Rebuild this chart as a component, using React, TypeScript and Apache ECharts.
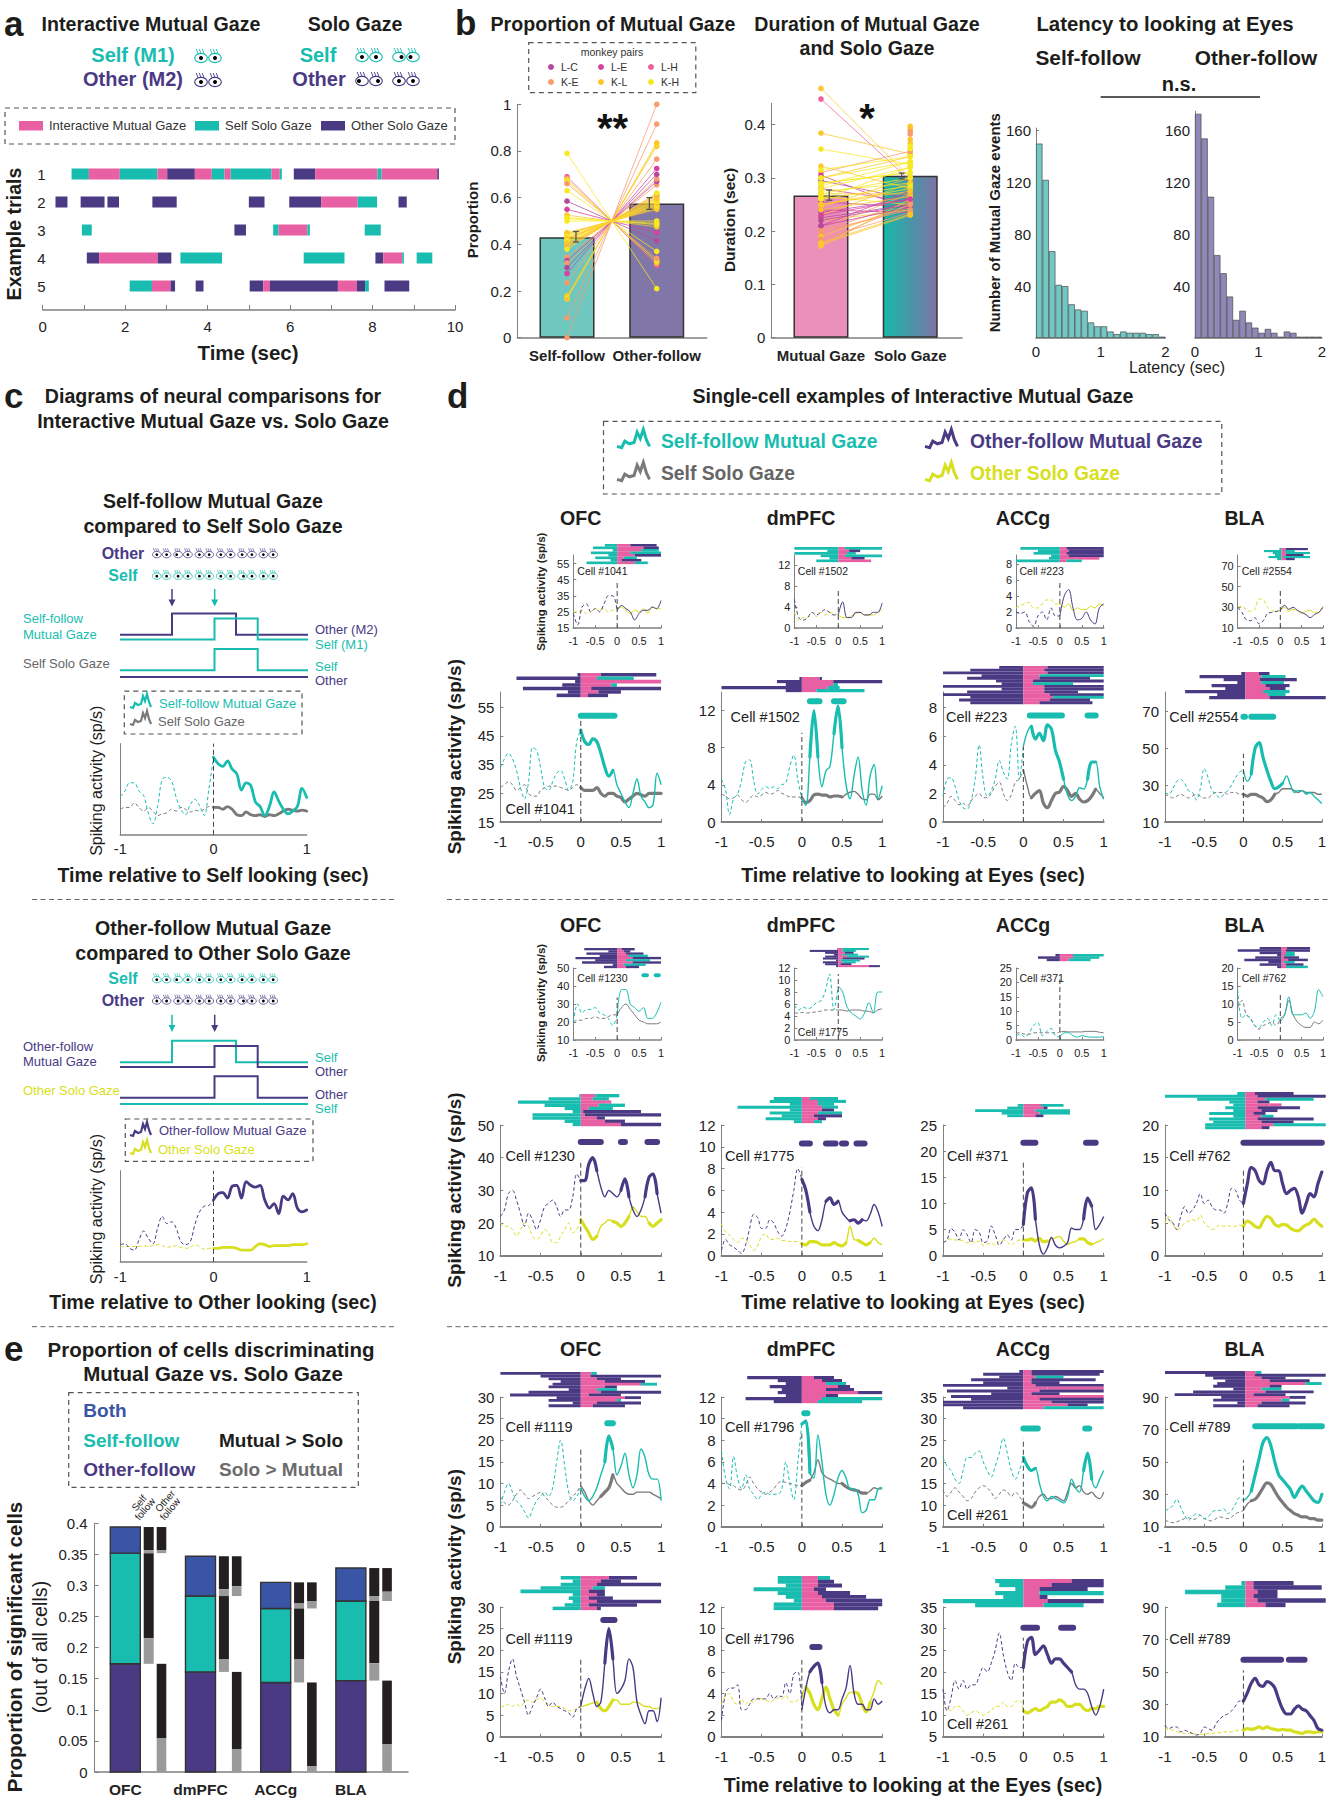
import React, { useEffect, useRef } from "react";
import * as echarts from "echarts";

const FONT = '"Liberation Sans", Arial, sans-serif';
const TEAL = "#19bdb0";
const PURPLE = "#4a3a84";
const GRAY = "#7a7a7a";
const YELLOW = "#d8df20";
const PINK = "#e85fa3";
const BLUE = "#3a55a5";
const INK = "#1d1d1b";
const AXIS = "#808080";
const RASTER_COLORS = [TEAL, PURPLE, PINK];

// ---------- panel a ----------
const ganttColors = [PINK, TEAL, PURPLE];
const ganttRow1 = [[0.70,1.12,1],[1.12,1.87,0],[1.87,2.78,1],[2.78,3.02,0],[3.02,3.69,2],[3.69,4.10,0],[4.10,4.41,1],[4.41,4.56,0],[4.56,5.55,1],[5.55,5.75,0],[5.75,5.80,1],[6.09,6.61,2],[6.61,8.12,0],[8.12,8.22,1],[8.22,9.57,0],[9.57,9.61,2]];
const ganttRow2 = [[0.31,0.60,2],[0.92,1.50,2],[1.57,1.85,2],[2.66,3.25,2],[5.0,5.38,2],[5.98,6.76,2],[6.76,7.64,0],[7.64,8.11,1],[8.63,8.83,2]];
const ganttRow3 = [[0.95,1.19,1],[4.65,4.93,2],[5.59,5.72,1],[5.72,6.42,0],[6.42,6.48,1],[7.81,8.20,1]];
const ganttRow4 = [[1.07,1.37,2],[1.37,2.79,0],[2.79,3.12,2],[3.34,4.35,1],[6.33,7.32,1],[8.07,8.26,2],[8.26,8.72,0],[8.72,8.76,1],[9.07,9.45,1]];
const ganttRow5 = [[2.11,2.65,1],[2.65,3.10,0],[3.10,3.21,2],[3.71,3.90,2],[5.02,5.35,2],[5.35,5.51,0],[5.51,7.16,2],[7.16,7.62,0],[7.62,7.82,2],[7.82,7.91,1],[8.29,8.89,2]];
const ganttRows = [ganttRow1, ganttRow2, ganttRow3, ganttRow4, ganttRow5];

// ---------- panel b ----------
const pairColors = ["#b5489e", "#d6409f", "#ef5f9e", "#f99a6c", "#fcc62c", "#f7e920"];
const pairNames = ["L-C", "L-E", "L-H", "K-E", "K-L", "K-H"];
const propCategories = ["Self-follow", "Other-follow"];
const propMeans = [0.43, 0.575];
const propErr = [[0.1, 0.41, 0.455], [0.918, 0.55, 0.6]];
const propLeft = [0.69,0.68,0.67,0.66,0.63,0.585,0.55,0.525,0.515,0.51,0.50,0.45,0.44,0.43,0.425,0.42,0.41,0.40,0.39,0.345,0.33,0.32,0.30,0.275,0.235,0.18,0.17,0.165,0.085,0.0,0.445,0.435,0.425,0.415,0.405,0.395,0.385,0.38,0.79];
const propRight = [0.31,0.32,0.33,0.34,0.37,0.415,0.45,0.475,0.485,0.49,0.50,0.55,0.56,0.57,0.575,0.58,0.59,0.60,0.61,0.655,0.67,0.68,0.70,0.725,0.765,0.82,0.83,0.835,0.915,1.0,0.555,0.565,0.575,0.585,0.595,0.605,0.615,0.62,0.21];
const propPair = [2,4,5,3,5,0,1,4,5,5,5,4,4,5,3,4,5,4,4,3,0,3,0,1,3,4,5,4,3,3,4,5,4,5,4,4,3,5,5];
const durCategories = ["Mutual Gaze", "Solo Gaze"];
const durMeans = [0.267, 0.304];
const durErr = [[0.093, 0.258, 0.277], [0.904, 0.298, 0.309]];
const durLeft = [0.468,0.448,0.384,0.354,0.322,0.31,0.305,0.30,0.295,0.29,0.285,0.28,0.275,0.27,0.265,0.26,0.255,0.25,0.245,0.24,0.235,0.23,0.225,0.22,0.21,0.205,0.2,0.195,0.19,0.175,0.172,0.315,0.3,0.29,0.28,0.27,0.26,0.25,0.24,0.23,0.22,0.21,0.2,0.185,0.18,0.178];
const durRight = [0.30,0.295,0.345,0.325,0.28,0.35,0.24,0.34,0.26,0.31,0.33,0.255,0.29,0.27,0.25,0.32,0.245,0.28,0.3,0.235,0.26,0.29,0.25,0.24,0.275,0.27,0.255,0.245,0.25,0.23,0.26,0.34,0.33,0.31,0.32,0.3,0.285,0.275,0.265,0.26,0.25,0.245,0.24,0.235,0.25,0.232];
const durPair = [4,2,4,5,4,3,1,4,0,5,5,1,5,4,5,5,0,5,4,1,0,4,0,4,1,3,3,3,4,4,4,5,5,5,5,5,5,4,4,1,0,0,3,3,3,4];
const durExtraRight = [0.397,0.392,0.387,0.382,0.372,0.365,0.36,0.355];
const durExtraPair = [4,4,3,3,4,4,5,5];
const histSelf = [150,122,67,41,40,26,22,21,12,9,9,5,3,5,4,4,4,3,3,1];
const histOther = [173,154,109,64,50,32,14,21,12,8,4,7,4,1,5,4,1,1,1,1];

// ---------- panel c ----------
const cSelfMutual = [42,48,57,57,48,43,24,12,31,61,63,59,41,28,22,33,39,32,21,50,85,78,75,81,72,67,49,57,54,36,31,21,31,47,37,28,23,26,31,51,41];
const cSelfSolo = [28,30,30,35,30,26,30,26,21,23,24,28,26,30,28,25,27,26,28,31,30,30,28,31,28,22,21,25,22,21,22,20,22,21,23,26,28,27,26,27,26];
const cOtherMutual = [19,20,15,13,24,34,26,20,37,50,42,44,37,22,19,22,41,55,61,62,68,75,76,70,83,84,70,88,84,82,84,68,59,64,53,72,68,75,59,55,57];
const cOtherSolo = [17,17,17,17,17,18,17,18,19,18,16,17,17.5,16,15,16,19,17,14,15,15,15,16,16,16,15,13,13,13,17,20,19,17,18,18,18,18,19,19,19,20];

// ---------- panel d, row 1 small ----------
const s1a = [24,17,28,30,25,27,25,30,35,35,26,29,27,25,20,24,26,26,28,27,32];
const s1b = [25,25,26,24,25,27,26,27,25,26,27,28,26,24,26,25,27,24,28,27,27];
const s2a = [5.5,2,1.5,2,3,2.5,3,3.5,3,2.5,2.5,5,2,2,3,3,2.5,2.5,3,3,4.8];
const s2b = [3,1.5,2,2,3,2.2,3,2.5,3,2.8,2.5,2,2,2.3,2.8,3,2.5,2.5,2.5,3,3.5];
const s3a = [2,1.8,2,0.8,0.2,1.5,2,1,2.5,1.5,1.5,4,4.8,2.5,1,1.2,2,1,0.5,2.5,3];
const s3b = [2.5,2.8,3,3.2,2.5,2.5,3,3.5,3.5,3,3,2.6,3,2.2,2.5,2.3,2.3,2.7,2.5,3,2.8];
const s4a = [30,25,18,17,20,14,17,24,25,26,27,32,28,30,27,25,23,20,23,25,30];
const s4b = [30,31,28,26,28,38,37,30,27,26,27,30,26,28,27,24,26,27,25,25,31];
// row 1 large
const l1a = [34,37,39,37,33,27,23,29,41,40,34,27,26,29,32,33,30,26,29,43,47,43,42,44,43,39,34,31,33,28,25,22,20,25,30,24,22,20,21,32,28];
const l1b = [27,28,29,28,26,27,28,25,24,24,26,27,27.5,27.5,27.5,27,26.5,26,27,28,27,26,26,26,27,25,24,25,25,24,23.5,22,23,24,25,24.5,24,25,25,25,25];
const l2a = [4.6,3.5,0.8,2.5,3,4.5,6.5,6.7,4.5,3,3.5,3.8,3.6,3.8,3.6,4,4.2,6,7.2,4.5,2.5,1.8,7,12,7,3.8,5.5,6,9.5,12.5,8,4,2.5,5,7,3.5,1.8,5,6.2,2.5,3.9];
const l2b = [3,2.8,2.5,2.6,2.9,2.4,2.1,2.5,2.9,2.7,2.9,3.2,3,3.1,3.4,3.1,2.9,2.7,2.7,2.7,2.6,2.1,2.3,2.9,3,2.9,2.9,2.7,2.8,2.8,2.7,3,3.2,3.3,3,2.5,2.4,3,3,2.4,2.8];
const l3a = [1.8,3,3.1,2.5,1.5,1,0.9,1.5,3,5.4,3,1.8,2.2,3,4.3,3.5,3,5.5,6.7,3,5.3,6.3,6.7,5.8,6.2,5.7,6.8,6.5,5,4.2,3,1.9,1.5,1.8,2.4,2.3,3,4.2,4.2,2.5,1.6];
const l3b = [1,1.3,1.8,1.5,1.2,1.3,1.1,1.5,1.8,2,1.7,1.7,2,2.5,2.8,2,1.5,1.9,2.8,3,3.7,2.5,1.7,2,2.2,1.3,1,1.5,2,2.1,2.5,2.2,1.8,2,1.6,1.4,1.5,1.8,2.3,2,1.7];
const l4a = [26,25,28,32,33,31,27,26,22,28,39,34,27,25,23,25,27,30,34,37,38,32,36,50,53,45,38,32,28,29,31,35,30,26,27,27,25,26,24,22,20];
const l4b = [25,24,23,24,25,24,23,24,25,24,23,23,25,26,26,26,25,26,26,25,25,24,25,25,24,23,21,22,25,26,28,28,28,27,26,27,26,26,26,25,25];
// row 2 small
const s5a = [20,30,25,27,27,28,25,24,22,18,24,38,38,30,28,26,28,22,22,25,31];
const s5b = [20,21,21,22,22,23,22,22,23,24,24,28,30,27,24,21,20,19,19,19,20];
const s6a = [5.8,5,5.5,5.2,5.5,6.2,6.5,8,11,5,9,8,5.5,4.5,4,3.5,4.5,6.2,4.5,8,8];
const s6b = [4.5,4.5,4.6,4.5,4.6,4.7,4.8,5,5,5,5,5,4.8,5,5,5,4.8,4.8,4.5,5,5.2];
const s7a = [1.5,2,1,2.5,5,6,1.5,3,4,1.5,1,2.5,2.5,1.5,1,1.5,1.2,1,1,1,1.2];
const s7b = [2.5,2.5,2,2,2.5,2.5,2.5,2.5,2.5,2.5,2.7,3,2.8,2.8,2.8,2.8,3,3,3,2.7,2.5];
const s8a = [14,6,7,6,4,3.5,5,6,4,7,5,7,12,7,7,7,7.5,6,8,14,12];
const s8b = [9,11,7,6,4,3,4,4.5,5,4,6,7,11,7,5,4,3.5,3.5,5,4.5,5.5];
// row 2 large
const l5a = [22,24,29,30,27,23,19,23,21,18,21,25,26,27,25,22,24,24,28,35,33,33,38,40,36,31,28,30,29,28,30,33.5,28,24,22,24,28,34,35,29,23];
const l5b = [20,19,19,18,16,18,20,19,16,15,16,18,17,14,14,16,18,20,17,18,21,19,17,15,16,19,20,21,20.5,20,19,20,22,25,23.5,22,22,20,19,20,21];
const l6a = [0.5,1.5,1,0.8,0.5,0.2,1,2.5,3.8,3.5,2.5,2.5,3.3,3,2.2,1.8,2.5,4,6,8,7,6,4,2.7,2.3,3.3,5,5.3,4.7,5,4,3.5,3.2,3.3,3,3.3,3.2,3.8,4.7,4,2.7];
const l6b = [2.9,2.2,1.9,1.5,1.2,1.6,1.5,1,0.5,0.9,1.8,2,1.5,1.5,1.6,1.4,1.4,1.3,1.3,1.3,1.1,1,1.3,1.3,1.2,1,1,1,1.2,1,0.9,1.2,2.7,1.5,1.4,1.2,1,1.2,1.6,1.2,1];
const l7a = [2.5,3,5.2,4.5,3,5,4,2.5,5,4.5,2.5,2.8,5.7,4,2,3,4,3,5,5,6,12,13,7,2,0.3,1.5,3.5,2,1.5,1.8,2.5,5.3,5,5,7,11,9.5,5,6,7.5];
const l7b = [2.5,3,3.2,3,3,2.8,2.5,2.8,2.5,2.8,2,2.2,2.4,2,2.8,3,2.6,2,2.6,3,3,3,3.2,2.8,3.3,2.7,2.8,3.2,3.4,3.7,2.8,2.2,2.5,2.7,3.2,3.2,2.5,2.2,2.5,2.8,3.3];
const l8a = [6.5,5.5,5,4,6,7.5,6.5,7,8,9.5,8,8.5,7.5,7,7,6.5,8,10.3,10,8.5,8,11,13.5,13,11.5,11,13,14.3,13,13,11,9.5,10,10.3,9,6.5,8,9.5,9,11,12.8];
const l8b = [5,6,4.8,4,4.3,5,5.3,5.5,5.3,6.2,5,4.5,4,4.3,4.7,4.5,4.6,4.4,4.5,4.7,4.5,5.3,5,4.5,4.3,5.3,6,5.7,4.8,4.5,4.8,4.7,4.2,3.9,3.8,4.3,4.7,5,5.6,5,4.5];
// row 3 upper
const u1a = [5,8,10,8,6,5,3.5,2,4,6,7,8,7,9,15,20,14,8,6,7,9,7,6,7,9,12,15,21,18,12,14,17,12,9,12,18,16,12,11,11,6];
const u1b = [7,5.5,5,6,7.5,8.5,7.5,6.5,7,7.5,8,7,6,5,4.5,4.5,5,6,7,8,9.5,8,6,5,6,7,8,9,12,10,9,8,7.5,7.5,8,8,8,8,7.5,7,6.5];
const u2a = [7,4.5,3.5,6.5,4.5,3.5,4.8,3.5,3,2.5,3,3.2,3,3,3,3.5,6,4,2.5,6,9.5,9.8,5,4.5,8.5,6,3,2,3,4.5,5.2,4.5,3.5,3.5,3,1.3,1.5,2.5,2.5,3.5,3.6];
const u2b = [4,4,3.9,3.8,3.5,3.4,3.8,4.6,4,3.5,3.2,3,3.2,3.5,4,4.2,4.1,4,3.9,3.8,3.8,4.1,4.3,5,6.2,5,4.6,4.4,4.2,4,4,3.7,3.5,3.4,3.3,3.1,3.1,3.3,3.6,3.5,3.5];
const u3a = [21,19,18,16,15,18,21,21,22,22.5,20,18,16.5,19,22,25.5,22,18,16,18,21,19,18,18.5,15,12,11,12,11.5,11,10.5,12,16,14,13,18,22,16,14,16,18];
const u3b = [13.5,12,13,14,13,12,11,11.5,13,14,14.5,14,13,11.5,12.5,13.5,13,12,13,12,10.5,10,9.5,10.5,12,12.5,11.5,11.5,12,11.5,11,13,15,14,14.5,13,12.5,13,12,11.5,13];
const u4a = [20,21,23,27,22,17,14,16,18,17,15,16,19,20,20,21,18,20,24,28,26,28,32,42,52,62,65,60,50,42,39,36,33,28,32,35,32,29,26,25,30];
const u4b = [14,13,12.5,13,14,15,15.5,14.5,15,17,15,14,13.5,15,16,15.5,15,16,18,19,20,24,26,27,30,34,37,36,32,28,25,22,20,18,17,16,16,15,15,14,14];
// row 3 lower
const v1a = [14,10,15,18,14,11,8,5,7,9,11,9,7,8,7,6.5,6,5.5,4.5,6.5,7,11,13.5,10,7,8,17,25,18,10,11,13,18,16,8,5,3,6,6,3.5,9];
const v1b = [7,7,7.5,7,7.5,7,8,8.5,8,8.5,9,8,7.5,7,7,7,6.5,6,6,6.5,7,7.2,7.5,7.8,8,6.5,6,7,8.5,8.5,7.5,7.5,7.5,8,8,7.5,7,7,6.5,6.5,7];
const v2a = [1.5,4,4.5,4.5,4.8,2.5,2.5,3,3.5,3.5,3.5,3.5,4,3.5,3.8,3.7,5,4,5.8,6,2.5,4.5,6,6.5,6.8,5,2.8,2.2,2.5,2.5,3.5,4.5,6.6,4,3,3,2.5,2.5,3.5,3,3.3];
const v2b = [3,3.8,4,3.2,3,3.5,3,3.3,3.2,3.6,3.5,3.4,3.2,3.4,3.6,3.5,3.8,3.3,3.2,3.4,3.5,4.6,4,3,2.5,3.5,4.6,3.5,2.5,2,3,3.6,4.1,4.1,4,3,2.3,3.2,4.2,5.2,4.8];
const v3a = [16,11,14,18,16,18,16,17,17,19,21,20,22,25,29,24,20,18,22,21,21,27,28,24,25,26,24,22,23,23,22,21,20,17,16,16,15,12,10,12,16];
const v3b = [12,11.5,11,12,12,11,10,10.5,11,10.5,10,10.5,11,12,12,13,12,12,13,13.5,11,10.5,11,11.5,11,11.5,12,13,13,13.5,13,12,12,12.5,12.5,11.5,11,11.5,11.5,12,12];
const v4a = [17,15,16,16,13,14,13,12,11,12,16,15,14,18,21,23,24,26,29,32,32,37,43,46,42,41,44,43,40,33,27,24,24,27,29,27,26,23,20,15,14];
const v4b = [14,15,14,13,12.5,12,12,12,11.5,11.5,11.5,12,12,12.5,12.5,13,13,13,13.5,14,14,15,14.5,15,16,15,16,15,14.5,14,14.5,14,14,13,12.5,12,13,13,12.5,13,13];

// rasters: [left onset, pink end, right end, right colour]
const rasterS1 = [
  [[-0.28,0.3,0.9,1],[-0.55,0.6,0.95,1],[-0.1,0.55,0.95,0],[-0.6,0.3,1,0],[-0.2,0.4,1,1],[-0.5,0.15,0.45,0],[-0.15,0.1,0.55,1],[-0.7,0.4,0.7,0]],
  [[-1,0.15,1,0],[-0.25,0.25,0.5,1],[-1,0.2,0.4,0],[-0.4,0.15,1,0],[-0.2,0.3,0.6,1],[-0.5,0.2,0.75,2]],
  [[-0.9,0.15,1,1],[-0.5,0.2,1,1],[-0.6,0.15,1,1],[-0.2,0.2,1,1],[-0.25,0.35,0.9,2],[-1,0.15,0.5,0]],
  [[-0.05,0.1,0.6,1],[-0.4,0.08,0.3,0],[-0.2,0.1,0.65,0],[-0.15,0.1,0.5,1],[-0.3,0.05,0.65,0],[-0.1,0.1,0.3,1]],
];
const rasterL1 = [
  [[-0.04,0.25,0.94,1],[-0.8,0.2,0.66,0],[-0.07,0.45,1,2],[-0.23,0.38,0.45,0],[-0.72,0.13,1,1],[-0.16,0.22,0.5,1],[-0.3,0.09,0.34,1]],
  [[-0.03,0.22,0.25,1],[-0.31,0.39,1,1],[-0.2,0.39,0.45,0],[-1,0.32,0.47,0],[-0.2,0.18,0.78,0]],
  [[-0.3,0.3,1,1],[-0.66,0.26,1,1],[-1,0.3,1,1],[-0.52,0.2,1,0],[-0.7,0.2,0.83,1],[-0.34,0.12,1,1],[-0.27,0.12,0.62,0],[-1,0.26,1,1],[-0.27,0.26,1,1],[-0.7,0.26,0.68,1],[-1,0.33,1,1],[-0.66,0.37,1,0],[-0.8,0.33,0.83,1],[-0.66,0.2,0.86,1]],
  [[-0.05,0.17,0.3,1],[-0.57,0.2,0.5,0],[-0.27,0.18,0.64,1],[-0.1,0.2,0.48,0],[-0.42,0.25,0.55,1],[-0.25,0.3,0.5,1],[-0.75,0.22,0.55,0],[-0.35,0.28,0.5,0],[-0.45,0.3,1,1]],
];
const rasterS2 = [
  [[-0.75,0.1,0.4,1],[-0.2,0.15,0.3,1],[-0.7,0.2,0.6,1],[-0.4,0.25,0.7,0],[-0.95,0.35,1,1],[-0.5,0.2,0.75,0],[-0.8,0.35,1,1],[-0.1,0.15,0.65,0],[-0.3,0.2,0.5,1]],
  [[-0.02,0.1,0.7,0],[-0.65,0.1,0.4,0],[-0.3,0.15,0.35,1],[-0.1,0.1,0.45,0],[-0.3,0.2,0.7,0],[-0.35,0.1,0.6,1],[-0.05,0.05,0.5,0],[-0.35,0.1,0.4,0],[-0.3,0.05,0.3,1],[-0.05,0.7,0.95,1]],
  [[-0.1,0.3,1,0],[-0.5,0.3,0.9,0],[-0.3,0.2,0.7,0]],
  [[-0.5,0.12,0.65,1],[-1,0.1,0.65,1],[-0.5,0.1,0.3,0],[-0.1,0.08,0.3,0],[-0.6,0.05,0.4,1],[-0.85,0.15,0.6,1],[-0.3,0.05,0.3,0],[-0.5,0.1,0.5,1],[-0.1,0.1,0.6,0]],
];
const rasterL2 = [
  [[-0.02,0.18,0.48,0],[-0.4,0.15,0.35,0],[-0.78,0.32,0.38,2],[-0.45,0.22,0.55,0],[-0.2,0.1,0.4,0],[-0.1,0.03,0.75,1],[-0.6,0.05,1,1],[-0.6,0.2,0.3,1],[-0.2,0.3,0.55,1],[-0.1,0.5,1,1]],
  [[-0.35,0.1,0.45,0],[-0.4,0.2,0.55,0],[-0.15,0.2,0.4,0],[-0.8,0.25,0.45,0],[-0.15,0.25,0.4,1],[-0.4,0.2,0.5,0],[-0.25,0.15,0.5,1],[-0.45,0.2,0.3,1],[-0.1,0.15,0.25,0]],
  [[-0.07,0.22,0.5,0],[-0.2,0.25,0.3,1],[-0.6,0.15,0.58,0],[-0.27,0.2,0.58,0],[-0.2,0.15,0.25,1]],
  [[-0.1,0.12,0.6,1],[-1,0.15,1,1],[-0.6,0.25,0.85,0],[-0.2,0.15,0.3,1],[-0.15,0.3,0.45,2],[-0.25,0.15,0.68,1],[-0.15,0.2,0.4,1],[-0.45,0.1,0.25,1],[-0.15,0.2,0.35,0],[-0.45,0.15,0.85,1],[-0.4,0.2,0.6,1],[-0.5,0.35,1,0],[-0.5,0.2,0.3,1]],
];
const rasterU = [
  [[-1,0.13,0.2,0],[-0.5,0.12,1,1],[-0.4,0.2,0.5,1],[-0.25,0.3,0.8,1],[-0.35,0.75,0.95,0],[-0.4,0.3,0.45,1],[-0.15,0.2,0.45,0],[-0.65,0.25,1,1],[-0.88,0.1,0.5,1],[-0.3,0.55,0.75,1],[-0.4,0.45,0.5,0],[-0.1,0.2,0.75,1],[-0.4,0.15,0.55,1]],
  [[-0.68,0.15,0.4,1],[-0.3,0.25,0.5,1],[-0.2,0.3,0.55,0],[-0.4,0.45,0.6,1],[-0.25,0.3,0.65,1],[-0.3,0.7,1,1],[-0.2,0.3,0.45,1],[-0.7,0.25,1,0],[-0.35,0.2,0.75,0]],
  [[-0.05,0.1,1,1],[-0.5,0.1,0.95,1],[-0.3,0.15,0.5,0],[-0.65,0.1,0.9,1],[-0.5,0.1,0.45,1],[-1,0.15,1,1],[-0.2,0.3,1,2],[-0.95,0.2,1,1],[-0.4,0.1,0.45,1],[-0.9,0.15,1,2],[-0.65,0.2,1,1],[-1,0.35,1,1],[-1,0.55,0.8,1],[-0.75,0.25,1,0]],
  [[-1,0.13,0.2,0],[-0.5,0.12,1,1],[-0.4,0.2,0.5,1],[-0.25,0.3,0.8,1],[-0.35,0.75,0.95,0],[-0.4,0.3,0.45,1],[-0.15,0.2,0.45,0],[-0.65,0.25,0.85,1],[-0.88,0.1,0.5,1],[-0.3,0.55,0.75,1],[-0.4,0.45,0.55,0],[-0.1,0.2,0.75,1],[-0.4,0.15,0.55,1]],
];
const rasterV = [
  [[-0.25,0.35,0.7,1],[-0.1,0.25,0.5,1],[-0.25,0.2,1,1],[-0.5,0.15,0.3,0],[-0.75,0.1,0.3,1],[-0.1,0.2,0.3,1],[-0.15,0.1,0.4,1],[-0.1,0.2,1,1],[-0.2,0.1,0.7,1],[-0.35,0.2,0.25,1]],
  [[-0.3,0.2,0.35,0],[-0.3,0.2,0.4,1],[-0.2,0.2,0.5,1],[-0.6,0.15,0.3,1],[-0.3,0.2,0.6,1],[-0.2,0.25,0.8,1],[-0.1,0.3,1,1],[-0.35,0.4,1,1],[-0.35,0.4,0.95,1]],
  [[-0.35,0.6,1,1],[-0.3,0.35,1,1],[-0.1,0.2,0.8,1],[-0.35,0.2,1,0],[-0.25,0.2,0.3,1],[-1,0.3,1,1],[-0.6,0.25,0.75,0]],
  [[-0.05,0.1,0.6,1],[-0.25,0.1,0.95,1],[-0.75,0.15,0.4,1],[-0.3,0.1,0.4,1],[-0.3,0.15,1,1],[-0.35,0.25,0.5,1]],
];

// y scales for each block of panels
const scaleR1 = [{ min: 15, max: 60.3, ticks: [15,25,35,45,55] }, { min: 0, max: 14, ticks: [0,4,8,12] }, { min: 0, max: 9.1, ticks: [0,2,4,6,8] }, { min: 10, max: 80.4, ticks: [10,30,50,70] }];
const scaleR2 = [{ min: 10, max: 50, ticks: [10,20,30,40,50] }, { min: 0, max: 12, ticks: [0,2,4,6,8,10,12] }, { min: 0, max: 25, ticks: [0,5,10,15,20,25] }, { min: 0, max: 20, ticks: [0,5,10,15,20] }];
const scaleR3 = [{ min: 0, max: 30, ticks: [0,5,10,15,20,25,30] }, { min: 0, max: 12, ticks: [0,2,4,6,8,10,12] }, { min: 5, max: 35, ticks: [5,10,15,20,25,30,35] }, { min: 10, max: 90, ticks: [10,30,50,70,90] }];

// ---------- panel e ----------
const eRegions = ["OFC", "dmPFC", "ACCg", "BLA"];
const eOtherTop = [0.174, 0.161, 0.144, 0.147];
const eSelfTop = [0.352, 0.283, 0.263, 0.275];
const eBothTop = [0.394, 0.347, 0.305, 0.328];
const eSelfBothSplit = [0.357, 0.294, 0.271, 0.283];
const eSelfOwnSplit = [0.215, 0.181, 0.181, 0.175];
const eOtherBothSplit = [0.357, 0.299, 0.275, 0.29];
const eOtherOwnSplit = [0.054, 0.037, 0.009, 0.045];

const largeLeft = [500.4, 721.5, 943, 1165];
const smallLeft = [573.3, 794.4, 1016, 1237.7];
const cellLargeX = [505.5, 725, 947, 1169.3];
const cellSmallX = [577.3, 797.8, 1019.5, 1241.7];

const blocks: any[] = [
  { kind: "S", top: 555, bottom: 628, scale: scaleR1, ac: PURPLE, bc: YELLOW, leftC: 0, a: [s1a,s2a,s3a,s4a], b: [s1b,s2b,s3b,s4b], raster: rasterS1,
    box: [[544,564],[547,562],[547,562],[548,560]], dash: [44,7.2,5.7,48], cells: ["Cell #1041","Cell #1502","Cell #223","Cell #2554"], cellY: [571.3,571.3,571.3,571.3], aT: [[],[],[],[]], bT: [[],[],[],[]], sig: [null,null,null,null] },
  { kind: "L", top: 692, bottom: 822, scale: scaleR1, ac: TEAL, bc: GRAY, leftC: 1, a: [l1a,l2a,l3a,l4a], b: [l1b,l2b,l3b,l4b], raster: rasterL1,
    box: [[673,697],[677,692],[666,704],[672,699]], dash: [52,9.6,5.3,47], cells: ["Cell #1041","Cell #1502","Cell #223","Cell #2554"], cellY: [809.3,716.7,716.7,716.7], cellX: [505.5,730.6,946,1169.3],
    aT: [[[0,0.4]],[[0.1,0.2],[0.4,0.5]],[[0.1,0.5],[0.8,0.9]],[[0.1,0.5]]], bT: [[[0,1]],[[0,0.5]],[[0.1,0.9]],[[0,0.4]]],
    sig: [[52,[[0,0.42]]],[13,[[0.1,0.22],[0.4,0.52]]],[7.45,[[0.08,0.48],[0.8,0.9]]],[67,[[0,0.02],[0.1,0.38]]]] },
  { kind: "S", top: 968, bottom: 1040, scale: scaleR2, ac: TEAL, bc: GRAY, leftC: 1, a: [s5a,s6a,s7a,s8a], b: [s5b,s6b,s7b,s8b], raster: rasterS2,
    box: [[948,968],[948,967],[954,961],[947,968]], dash: [33.6,11,21,13], cells: ["Cell #1230","Cell #1775","Cell #371","Cell #762"], cellY: [978.3,1031.7,978.3,978.3], aT: [[],[],[],[]], bT: [[],[],[],[]],
    sig: [[46,[[0.6,0.68],[0.88,0.95]]],null,null,null] },
  { kind: "L", top: 1125, bottom: 1255.7, scale: scaleR2, ac: PURPLE, bc: YELLOW, leftC: 0, a: [l5a,l6a,l7a,l8a], b: [l5b,l6b,l7b,l8b], raster: rasterL2,
    box: [[1094,1126],[1097,1123],[1104,1117],[1092,1129]], dash: [38.4,8.1,18.3,13], cells: ["Cell #1230","Cell #1775","Cell #371","Cell #762"], cellY: [1156,1156,1156,1156],
    aT: [[[0,0.2],[0.5,0.6],[0.8,0.95]],[[0,0.1],[0.3,0.45],[0.6,0.75]],[[0,0.15],[0.75,0.85]],[[0,1]]], bT: [[[0,0.2],[0.4,0.6],[0.85,1]],[[0,0.55],[0.7,0.85]],[[0,0.3],[0.7,0.85]],[[0,1]]],
    sig: [[44.8,[[0,0.25],[0.5,0.55],[0.83,0.95]]],[10.3,[[0,0.1],[0.3,0.42],[0.5,0.55],[0.68,0.78]]],[21.6,[[0,0.15],[0.78,0.9]]],[17.3,[[0,1]]]] },
  { kind: "L", top: 1397, bottom: 1526.7, scale: scaleR3, ac: TEAL, bc: GRAY, leftC: 1, a: [u1a,u2a,u3a,u4a], b: [u1b,u2b,u3b,u4b], raster: rasterU,
    box: [[1372,1407],[1376,1403],[1370,1409],[1371,1407]], dash: [18,8.7,25.4,51], cells: ["Cell #1119","Cell #1796","Cell #261","Cell #789"], cellY: [1427.3,1427.3,1515,1427.3],
    aT: [[[0.3,0.4]],[[0,0.1]],[[0,0.15],[0.75,0.85]],[[0.1,1]]], bT: [[[0.25,0.4]],[[0,0.1],[0.5,0.8]],[[0,0.15]],[[0.1,1]]],
    sig: [[23.9,[[0.33,0.4]]],[10.5,[[0.03,0.07]]],[27.7,[[0,0.18],[0.77,0.82]]],[72,[[0.15,0.68],[0.72,1]]]] },
  { kind: "L", top: 1607, bottom: 1736.7, scale: scaleR3, ac: PURPLE, bc: YELLOW, leftC: 0, a: [v1a,v2a,v3a,v4a], b: [v1b,v2b,v3b,v4b], raster: rasterV,
    box: [[1576,1610],[1576,1610],[1579,1607],[1581,1607]], dash: [17.8,7.1,27.9,50.9], cells: ["Cell #1119","Cell #1796","Cell #261","Cell #789"], cellY: [1639,1639,1724,1639],
    aT: [[[0.3,0.4]],[[0.1,0.25]],[[0,0.6]],[[0,1]]], bT: [[[0.2,0.4]],[[0.05,0.45],[0.65,0.85]],[[0,1]],[[0,1]]],
    sig: [[27,[[0.28,0.42]]],[8.3,[[0.13,0.22]]],[30.2,[[0,0.17],[0.47,0.62]]],[57.5,[[0,0.48],[0.58,0.78]]]] },
];

// ---------- option building helpers ----------
function T(x: number, y: number, text: string, o: any = {}) {
  return {
    type: "text", x, y, rotation: o.rot || 0, silent: true, z: 50,
    style: {
      text, fill: o.color || INK,
      font: `${o.bold === false || o.bold === undefined ? "normal" : "bold"} ${o.size || 14}px ${FONT}`,
      align: o.align || "left", verticalAlign: "middle",
      textAlign: o.align || "left", textVerticalAlign: "middle",
    },
  };
}
function boxEl(x0: number, y0: number, x1: number, y1: number) {
  return { type: "rect", silent: true, z: 40, shape: { x: x0, y: y0, width: x1 - x0, height: y1 - y0 }, style: { fill: "none", stroke: "#555", lineWidth: 1.2, lineDash: [5, 4] } };
}
function hdash(y: number, x0: number, x1: number) {
  return { type: "line", silent: true, z: 40, shape: { x1: x0, y1: y, x2: x1, y2: y }, style: { stroke: "#666", lineWidth: 1, lineDash: [5, 3.5] } };
}
function poly(pts: number[][], color: string, w = 2) {
  return { type: "polyline", silent: true, z: 40, shape: { points: pts }, style: { stroke: color, lineWidth: w, fill: "none" } };
}
function eyes(cx: number, cy: number, color: string, s = 1, d1 = 0, d2 = 0) {
  const kids: any[] = [];
  [-7, 7].forEach((ex, i) => {
    kids.push({ type: "ellipse", shape: { cx: ex, cy: 0, rx: 6.3, ry: 4.6 }, style: { fill: "#fff", stroke: color, lineWidth: 1.1 } });
    kids.push({ type: "circle", shape: { cx: ex + (i ? d2 : d1), cy: 0, r: 2 }, style: { fill: "#000" } });
    [-3, 0, 3].forEach((lx) => kids.push({ type: "line", shape: { x1: ex + lx, y1: -4.5, x2: ex + lx - 1.8, y2: -9 }, style: { stroke: color, lineWidth: 0.9 } }));
  });
  return { type: "group", x: cx, y: cy, scaleX: s, scaleY: s, silent: true, z: 45, children: kids };
}
function arrow(x: number, y0: number, y1: number, color: string) {
  return { type: "group", silent: true, z: 40, children: [
    { type: "line", shape: { x1: x, y1: y0, x2: x, y2: y1 - 2 }, style: { stroke: color, lineWidth: 1.5 } },
    { type: "polygon", shape: { points: [[x - 3.5, y1 - 7], [x + 3.5, y1 - 7], [x, y1]] }, style: { fill: color } },
  ] };
}
function squiggle(x: number, y: number, color: string, w: number, sx = 1, sy = 1) {
  const p = [[0,8],[3,9],[5,4],[8,6],[11,5],[13,-3],[15,2],[17,-5],[19,3],[21,8]];
  return poly(p.map(([a, b]) => [x + a * sx, y + b * sy]), color, w);
}

function buildOption() {
  const grid: any[] = [], xAxis: any[] = [], yAxis: any[] = [], series: any[] = [];
  const addAxes = (g: any, x: any, y: any) => {
    grid.push({ containLabel: false, ...g });
    xAxis.push({ gridIndex: grid.length - 1, ...x });
    yAxis.push({ gridIndex: grid.length - 1, ...y });
    return grid.length - 1;
  };
  const labelStyle = (size: number, extra: any = {}) => ({ fontFamily: FONT, fontSize: size, color: "#222", ...extra });
  const axisLine = (w = 1) => ({ show: true, onZero: false, lineStyle: { color: AXIS, width: w } });
  const noSplit = { show: false };

  // panel a
  {
    const i = addAxes(
      { left: 42.7, top: 160, width: 412.3, height: 150 },
      { type: "value", min: 0, max: 10, interval: 1, axisLine: axisLine(1.5), splitLine: noSplit,
        axisTick: { inside: true, length: 5, lineStyle: { color: AXIS } },
        axisLabel: { ...labelStyle(15), margin: 9, formatter: (v: number) => (v % 2 === 0 ? String(v) : "") } },
      { type: "value", inverse: true, min: 0.5, max: 5.857, axisLine: { show: false }, axisTick: { show: false }, splitLine: noSplit,
        axisLabel: { ...labelStyle(15), margin: -3, customValues: [1,2,3,4,5] } }
    );
    const data: any[] = [];
    ganttRows.forEach((r, ri) => r.forEach((s) => data.push([s[0], s[1], ri + 1, s[2]])));
    series.push({ type: "custom", xAxisIndex: i, yAxisIndex: i, silent: true, encode: { x: [0, 1], y: 2 }, data,
      renderItem: (_: any, api: any) => {
        const a = api.coord([api.value(0), api.value(2)]);
        const b = api.coord([api.value(1), api.value(2)]);
        return { type: "rect", shape: { x: a[0], y: a[1] - 5.5, width: b[0] - a[0], height: 11 }, style: { fill: ganttColors[api.value(3)] } };
      } });
  }

  // panel b bars + dots
  const pairChart = (left: number, width: number, xMin: number, xMax: number, top: number, bottom: number, yMax: number, ticks: number[], cats: string[], means: number[], colors: any[], L: number[], R: number[], P: number[], errs: number[][]) => {
    const i = addAxes(
      { left, top, width, height: bottom - top },
      { type: "value", min: xMin, max: xMax, axisLine: axisLine(1.5), axisTick: { show: false }, splitLine: noSplit,
        axisLabel: { ...labelStyle(15, { fontWeight: "bold" }), margin: 10, customValues: [0, 1], formatter: (v: number) => cats[v] } },
      { type: "value", min: 0, max: yMax, axisLine: axisLine(1), splitLine: noSplit,
        axisTick: { inside: true, length: 4, customValues: ticks, lineStyle: { color: AXIS } },
        axisLabel: { ...labelStyle(15), margin: 6, customValues: ticks } }
    );
    series.push({ type: "bar", xAxisIndex: i, yAxisIndex: i, silent: true, barWidth: 55, z: 2,
      data: means.map((m, k) => ({ value: [k, m], itemStyle: { color: colors[k], borderColor: "#333", borderWidth: 1.5 } })) });
    series.push({ type: "custom", xAxisIndex: i, yAxisIndex: i, silent: true, z: 3, encode: { x: [0, 1], y: 2 },
      data: L.map((v, k) => [0, 1, v, R[k], P[k]]),
      renderItem: (_: any, api: any) => {
        const a = api.coord([0, api.value(2)]);
        const b = api.coord([1, api.value(3)]);
        const c = pairColors[api.value(4)];
        return { type: "group", children: [
          { type: "line", shape: { x1: a[0], y1: a[1], x2: b[0], y2: b[1] }, style: { stroke: c, lineWidth: 1, opacity: 0.75 } },
          { type: "circle", shape: { cx: a[0], cy: a[1], r: 2.8 }, style: { fill: c } },
          { type: "circle", shape: { cx: b[0], cy: b[1], r: 2.8 }, style: { fill: c } },
        ] };
      } });
    series.push({ type: "custom", xAxisIndex: i, yAxisIndex: i, silent: true, z: 4, encode: { x: 0, y: [1, 2] }, data: errs,
      renderItem: (_: any, api: any) => {
        const a = api.coord([api.value(0), api.value(1)]);
        const b = api.coord([api.value(0), api.value(2)]);
        const st = { stroke: "#555", lineWidth: 1.3 };
        return { type: "group", children: [
          { type: "line", shape: { x1: a[0], y1: a[1], x2: b[0], y2: b[1] }, style: st },
          { type: "line", shape: { x1: a[0] - 3, y1: a[1], x2: a[0] + 3, y2: a[1] }, style: st },
          { type: "line", shape: { x1: b[0] - 3, y1: b[1], x2: b[0] + 3, y2: b[1] }, style: st },
        ] };
      } });
    return i;
  };
  pairChart(517.3, 189.4, -0.554, 1.557, 104.3, 337.7, 1, [0,0.2,0.4,0.6,0.8,1], propCategories, propMeans, ["#6fc8c0", "#8176a8"], propLeft, propRight, propPair, propErr);
  const durI = pairChart(771.3, 190.7, -0.5565, 1.58, 103.3, 337.7, 0.44, [0,0.1,0.2,0.3,0.4], durCategories, durMeans,
    ["#eb8fbb", new echarts.graphic.LinearGradient(0, 0, 1, 0, [{ offset: 0, color: "#16b8aa" }, { offset: 1, color: "#7c74a6" }])],
    durLeft, durRight, durPair, durErr);
  series.push({ type: "custom", xAxisIndex: durI, yAxisIndex: durI, silent: true, z: 3, encode: { x: 0, y: 1 },
    data: durExtraRight.map((v, k) => [1, v, durExtraPair[k]]),
    renderItem: (_: any, api: any) => {
      const a = api.coord([1, api.value(1)]);
      return { type: "circle", shape: { cx: a[0], cy: a[1], r: 2.8 }, style: { fill: pairColors[api.value(2)] } };
    } });

  // histograms
  const hist = (left: number, yMax: number, vals: number[], color: string) => {
    const top = 338 - yMax * 1.296;
    const i = addAxes(
      { left, top, width: 129.4, height: 338 - top },
      { type: "value", min: 0, max: 2, interval: 1, axisLine: axisLine(1.5), splitLine: noSplit, axisTick: { show: false }, axisLabel: { ...labelStyle(15), margin: 6 } },
      { type: "value", min: 0, max: yMax, axisLine: axisLine(1), splitLine: noSplit,
        axisTick: { inside: true, length: 3, customValues: [40,80,120,160], lineStyle: { color: AXIS } },
        axisLabel: { ...labelStyle(15), margin: 5, customValues: [40,80,120,160] } }
    );
    series.push({ type: "bar", xAxisIndex: i, yAxisIndex: i, silent: true, barWidth: 6.47,
      itemStyle: { color, borderColor: "#4a4a4a", borderWidth: 0.7 },
      data: vals.map((v, k) => [(k + 0.5) / 10, v]) });
  };
  hist(1036, 162, histSelf, "#71c9c5");
  hist(1195, 175, histOther, "#8f88b8");

  // generic firing-rate lines
  const addRate = (gi: number, vals: number[], color: string, thick: number[][], thin: number, thickW: number) => {
    const pts = vals.map((v, k) => [-1 + (2 * k) / (vals.length - 1), v]);
    const base = { type: "line", xAxisIndex: gi, yAxisIndex: gi, silent: true, symbol: "none", smooth: 0.35, z: 5 };
    series.push({ ...base, data: pts.filter((p) => p[0] <= 1e-6), lineStyle: { color, width: 1, type: [3.5, 2.5] } });
    series.push({ ...base, data: pts.filter((p) => p[0] >= -1e-6), lineStyle: { color, width: thin } });
    thick.forEach(([s, e]) => series.push({ ...base, data: pts.filter((p) => p[0] >= s - 1e-6 && p[0] <= e + 1e-6), lineStyle: { color, width: thickW, cap: "round" } }));
  };
  const zeroLine = (gi: number, y0: number, y1: number) => {
    series.push({ type: "line", xAxisIndex: gi, yAxisIndex: gi, silent: true, symbol: "none", z: 6, data: [[0, y0], [0, y1]], lineStyle: { color: "#444", width: 1, type: [5, 3] } });
  };

  // panel c line charts
  const cChart = (top: number, bottom: number, a: number[], b: number[], ac: string, bc: string) => {
    const i = addAxes(
      { left: 120.3, top, width: 186.4, height: bottom - top },
      { type: "value", min: -1, max: 1, interval: 1, axisLine: axisLine(1.5), splitLine: noSplit, axisTick: { show: false }, axisLabel: { ...labelStyle(14.5), margin: 7 } },
      { type: "value", min: 0, max: 100, axisLine: axisLine(1), axisLabel: { show: false }, axisTick: { show: false }, splitLine: noSplit }
    );
    zeroLine(i, 0, 100);
    addRate(i, b, bc, [[0, 1]], 1.5, 2.8);
    addRate(i, a, ac, [[0, 1]], 1.5, 2.8);
  };
  cChart(743.6, 834.8, cSelfMutual, cSelfSolo, TEAL, GRAY);
  cChart(1170.7, 1262, cOtherMutual, cOtherSolo, PURPLE, YELLOW);

  // panel d
  blocks.forEach((bk) => {
    const large = bk.kind === "L";
    for (let c = 0; c < 4; c++) {
      const sc = bk.scale[c];
      const left = large ? largeLeft[c] : smallLeft[c];
      const width = large ? 160.7 : 87.7;
      const i = addAxes(
        { left, top: bk.top, width, height: bk.bottom - bk.top },
        { type: "value", min: -1, max: 1, interval: 0.5, axisLine: axisLine(large ? 2 : 1.5), splitLine: noSplit,
          axisTick: { inside: true, length: 3, lineStyle: { color: AXIS } },
          axisLabel: { ...labelStyle(large ? 15 : 11), margin: large ? 12 : 7 } },
        { type: "value", min: sc.min, max: sc.max, axisLine: axisLine(1), splitLine: noSplit,
          axisTick: { inside: true, length: 3, customValues: sc.ticks, lineStyle: { color: AXIS } },
          axisLabel: { ...labelStyle(large ? 15 : 11), margin: large ? 6 : 4, customValues: sc.ticks } }
      );
      zeroLine(i, sc.min, bk.dash[c]);
      addRate(i, bk.b[c], bk.bc, bk.bT[c], large ? 1.4 : 1, 3.2);
      addRate(i, bk.a[c], bk.ac, bk.aT[c], large ? 1.4 : 1, 3.2);
      const sig = bk.sig[c];
      if (sig) sig[1].forEach(([s, e]: number[]) => series.push({
        type: "line", xAxisIndex: i, yAxisIndex: i, silent: true, symbol: "none", z: 7,
        data: [[s, sig[0]], [e, sig[0]]], lineStyle: { color: bk.ac, width: large ? 6 : 4, cap: "round" } }));
      // raster
      const rows = bk.raster[c];
      const [rt, rb] = bk.box[c];
      const ri = addAxes(
        { left, top: rt, width, height: rb - rt },
        { type: "value", show: false, min: -1, max: 1 },
        { type: "value", show: false, inverse: true, min: 0, max: rows.length }
      );
      const segs: any[] = [];
      rows.forEach((r: number[], k: number) => {
        segs.push([r[0], 0, k, bk.leftC]);
        segs.push([0, r[1], k, 2]);
        segs.push([r[1], r[2], k, r[3]]);
      });
      series.push({ type: "custom", xAxisIndex: ri, yAxisIndex: ri, silent: true, z: 8, encode: { x: [0, 1], y: 2 }, data: segs,
        renderItem: (_: any, api: any) => {
          const a = api.coord([api.value(0), api.value(2)]);
          const b = api.coord([api.value(1), api.value(2) + 1]);
          return { type: "rect", shape: { x: a[0], y: a[1], width: b[0] - a[0], height: b[1] - a[1] + 0.15 }, style: { fill: RASTER_COLORS[api.value(3)] } };
        } });
    }
  });

  // panel e
  {
    const i = addAxes(
      { left: 94.7, top: 1523.3, width: 313.3, height: 248.7 },
      { type: "value", min: -0.407, max: 3.76, axisLine: axisLine(1.5), axisTick: { show: false }, splitLine: noSplit,
        axisLabel: { ...labelStyle(15.5, { fontWeight: "bold" }), margin: 9, customValues: [0,1,2,3], formatter: (v: number) => eRegions[v] } },
      { type: "value", min: 0, max: 0.4, interval: 0.05, axisLine: axisLine(1), splitLine: noSplit,
        axisTick: { inside: true, length: 4, lineStyle: { color: AXIS } },
        axisLabel: { ...labelStyle(15), margin: 7 } }
    );
    const eFill = [PURPLE, TEAL, BLUE, "#231f20", "#9a9a9a"];
    const d: any[] = [];
    eRegions.forEach((_, r) => {
      d.push([r, 0, 0, eOtherTop[r], 0]);
      d.push([r, 0, eOtherTop[r], eSelfTop[r], 1]);
      d.push([r, 0, eSelfTop[r], eBothTop[r], 2]);
      d.push([r, 1, eSelfBothSplit[r], eBothTop[r], 3]);
      d.push([r, 1, eSelfTop[r], eSelfBothSplit[r], 4]);
      d.push([r, 1, eSelfOwnSplit[r], eSelfTop[r], 3]);
      d.push([r, 1, eOtherTop[r], eSelfOwnSplit[r], 4]);
      d.push([r, 2, eOtherBothSplit[r], eBothTop[r], 3]);
      d.push([r, 2, eSelfTop[r], eOtherBothSplit[r], 4]);
      d.push([r, 2, eOtherOwnSplit[r], eOtherTop[r], 3]);
      d.push([r, 2, 0, eOtherOwnSplit[r], 4]);
    });
    const offs = [[-15, 15], [18.4, 28.4], [31.4, 41]];
    series.push({ type: "custom", xAxisIndex: i, yAxisIndex: i, silent: true, encode: { x: 0, y: [2, 3] }, data: d,
      renderItem: (_: any, api: any) => {
        const slot = api.value(1);
        const a = api.coord([api.value(0), api.value(2)]);
        const b = api.coord([api.value(0), api.value(3)]);
        const [o0, o1] = offs[slot];
        return { type: "rect", shape: { x: a[0] + o0, y: b[1], width: o1 - o0, height: a[1] - b[1] },
          style: { fill: eFill[api.value(4)], stroke: slot === 0 ? "#333" : "none", lineWidth: 1.4 } };
      } });
  }

  // graphics: titles, legends, schematics
  const g: any[] = [];
  const H = 19.6;
  // a
  g.push(T(4, 23, "a", { size: 35, bold: true }));
  g.push(T(151, 24, "Interactive Mutual Gaze", { size: H, bold: true, align: "center" }));
  g.push(T(355, 24, "Solo Gaze", { size: H, bold: true, align: "center" }));
  g.push(T(133, 55, "Self (M1)", { size: 20, bold: true, align: "center", color: TEAL }));
  g.push(T(133, 79, "Other (M2)", { size: 20, bold: true, align: "center", color: PURPLE }));
  g.push(T(318, 55, "Self", { size: 20, bold: true, align: "center", color: TEAL }));
  g.push(T(319, 79, "Other", { size: 20, bold: true, align: "center", color: PURPLE }));
  g.push(eyes(208, 58, TEAL, 1, 0, 0), eyes(208, 82, PURPLE, 1, 0, 0));
  g.push(eyes(369, 57, TEAL, 1, 0, 0), eyes(406, 57, TEAL, 1, 2.5, -2.5));
  g.push(eyes(369, 81, PURPLE, 1, -3, 2), eyes(406, 81, PURPLE, 1, 0, 0));
  g.push(boxEl(5, 108, 455, 144));
  [[19, PINK, 49, "Interactive Mutual Gaze"], [195, TEAL, 225, "Self Solo Gaze"], [321, PURPLE, 351, "Other Solo Gaze"]].forEach(([x, c, tx, s]: any) => {
    g.push({ type: "rect", silent: true, z: 40, shape: { x, y: 121, width: 24, height: 9.5 }, style: { fill: c } });
    g.push(T(tx, 125, s, { size: 13, color: "#333" }));
  });
  g.push(T(14, 234, "Example trials", { size: H, bold: true, rot: Math.PI / 2, align: "center" }));
  g.push(T(248, 352, "Time (sec)", { size: 20.5, bold: true, align: "center" }));
  // b
  g.push(T(455, 22, "b", { size: 35, bold: true }));
  g.push(T(613, 24, "Proportion of Mutual Gaze", { size: H, bold: true, align: "center" }));
  g.push(T(867, 24, "Duration of Mutual Gaze", { size: H, bold: true, align: "center" }));
  g.push(T(867, 48, "and Solo Gaze", { size: H, bold: true, align: "center" }));
  g.push(T(1165, 24, "Latency to looking at Eyes", { size: 20.4, bold: true, align: "center" }));
  g.push(T(1088, 57, "Self-follow", { size: 20.8, bold: true, align: "center" }));
  g.push(T(1256, 57, "Other-follow", { size: 20.8, bold: true, align: "center" }));
  g.push(T(1179, 84, "n.s.", { size: 20, bold: true, align: "center" }));
  g.push({ type: "line", silent: true, z: 40, shape: { x1: 1100.7, y1: 97, x2: 1260, y2: 97 }, style: { stroke: "#222", lineWidth: 1.3 } });
  g.push(boxEl(528.7, 42.7, 695.8, 92.7));
  g.push(T(612, 52, "monkey pairs", { size: 10.5, align: "center", color: "#333" }));
  const legX = [551, 601, 651];
  pairNames.forEach((n, k) => {
    const x = legX[k % 3], y = k < 3 ? 67 : 82;
    g.push({ type: "circle", silent: true, z: 40, shape: { cx: x, cy: y, r: 3 }, style: { fill: pairColors[k] } });
    g.push(T(x + 10, y, n, { size: 10.5, color: "#333" }));
  });
  g.push(T(612.5, 128, "**", { size: 40, bold: true, align: "center", color: "#111" }));
  g.push(T(867, 118, "*", { size: 40, bold: true, align: "center", color: "#111" }));
  g.push(T(472.5, 220, "Proportion", { size: 15, bold: true, rot: Math.PI / 2, align: "center" }));
  g.push(T(729.5, 220, "Duration (sec)", { size: 15.5, bold: true, rot: Math.PI / 2, align: "center" }));
  g.push(T(994.4, 222.7, "Number of Mutual Gaze events", { size: 15, bold: true, rot: Math.PI / 2, align: "center" }));
  g.push(T(1177, 367, "Latency (sec)", { size: 16, align: "center" }));
  // c
  g.push(T(4, 395, "c", { size: 35, bold: true }));
  g.push(T(213, 396, "Diagrams of neural comparisons for", { size: H, bold: true, align: "center" }));
  g.push(T(213, 421, "Interactive Mutual Gaze vs. Solo Gaze", { size: H, bold: true, align: "center" }));
  g.push(T(213, 501, "Self-follow Mutual Gaze", { size: H, bold: true, align: "center" }));
  g.push(T(213, 525.5, "compared to Self Solo Gaze", { size: H, bold: true, align: "center" }));
  const eyeX = [161.7, 183, 204.3, 225.7, 247, 268.3];
  const sched = (yA: number, cA: string, lA: string, yB: number, cB: string, lB: string) => {
    g.push(T(123, yA, lA, { size: 16, bold: true, color: cA, align: "center" }));
    g.push(T(123, yB, lB, { size: 16, bold: true, color: cB, align: "center" }));
    eyeX.forEach((x, k) => {
      g.push(eyes(x, yA + 1, cA, 0.7, k === 1 ? -2 : 0, 0));
      g.push(eyes(x, yB + 1, cB, 0.7, k === 4 ? 2 : 0, 0));
    });
  };
  sched(553.6, PURPLE, "Other", 575.2, TEAL, "Self");
  g.push(arrow(172, 589, 606.6, PURPLE), arrow(214.7, 589, 606.6, TEAL));
  g.push(poly([[120,634.7],[172,634.7],[172,613.4],[236,613.4],[236,634.7],[308,634.7]], PURPLE));
  g.push(poly([[120,639.4],[214.5,639.4],[214.5,618.5],[257.7,618.5],[257.7,639.4],[308,639.4]], TEAL));
  g.push(poly([[120,670.2],[214.5,670.2],[214.5,648.9],[257.7,648.9],[257.7,670.2],[308,670.2]], TEAL));
  g.push(poly([[120,677],[308,677]], PURPLE));
  g.push(T(23, 618.8, "Self-follow", { size: 13, color: TEAL }));
  g.push(T(23, 634, "Mutual Gaze", { size: 13, color: TEAL }));
  g.push(T(23, 663, "Self Solo Gaze", { size: 13, color: "#666" }));
  g.push(T(315, 629.3, "Other (M2)", { size: 13, color: PURPLE }));
  g.push(T(315, 644.2, "Self (M1)", { size: 13, color: TEAL }));
  g.push(T(315, 666.8, "Self", { size: 13, color: TEAL }));
  g.push(T(315, 680.3, "Other", { size: 13, color: PURPLE }));
  g.push(boxEl(124.3, 691.2, 302, 734));
  g.push(squiggle(130, 699, TEAL, 2.2), squiggle(130, 716, GRAY, 2.2));
  g.push(T(159, 703.3, "Self-follow Mutual Gaze", { size: 13, color: TEAL }));
  g.push(T(158, 721.6, "Self Solo Gaze", { size: 13, color: "#666" }));
  g.push(T(96.7, 780.7, "Spiking activity (sp/s)", { size: 16, rot: Math.PI / 2, align: "center" }));
  g.push(T(213, 874.7, "Time relative to Self looking (sec)", { size: H, bold: true, align: "center" }));
  g.push(hdash(899.5, 32, 395));
  g.push(T(213, 928.3, "Other-follow Mutual Gaze", { size: H, bold: true, align: "center" }));
  g.push(T(213, 953.3, "compared to Other Solo Gaze", { size: H, bold: true, align: "center" }));
  sched(978.7, TEAL, "Self", 1000, PURPLE, "Other");
  g.push(arrow(172, 1014.7, 1032, TEAL), arrow(214.7, 1014.7, 1032, PURPLE));
  g.push(poly([[120,1062.3],[172,1062.3],[172,1040.7],[236,1040.7],[236,1062.3],[308,1062.3]], TEAL));
  g.push(poly([[120,1067],[214.5,1067],[214.5,1046],[257.7,1046],[257.7,1067],[308,1067]], PURPLE));
  g.push(poly([[120,1097.7],[214.5,1097.7],[214.5,1076.3],[257.7,1076.3],[257.7,1097.7],[308,1097.7]], PURPLE));
  g.push(poly([[120,1104],[308,1104]], TEAL));
  g.push(T(23, 1046.3, "Other-follow", { size: 13, color: PURPLE }));
  g.push(T(23, 1061.7, "Mutual Gaze", { size: 13, color: PURPLE }));
  g.push(T(23, 1090.3, "Other Solo Gaze", { size: 13, color: YELLOW }));
  g.push(T(315, 1057.3, "Self", { size: 13, color: TEAL }));
  g.push(T(315, 1071, "Other", { size: 13, color: PURPLE }));
  g.push(T(315, 1094, "Other", { size: 13, color: PURPLE }));
  g.push(T(315, 1108.3, "Self", { size: 13, color: TEAL }));
  g.push(boxEl(125.3, 1119, 313, 1161.3));
  g.push(squiggle(130, 1127, PURPLE, 2.2), squiggle(130, 1145, YELLOW, 2.2));
  g.push(T(159, 1130.7, "Other-follow Mutual Gaze", { size: 13, color: PURPLE }));
  g.push(T(158, 1149, "Other Solo Gaze", { size: 13, color: YELLOW }));
  g.push(T(96.7, 1209, "Spiking activity (sp/s)", { size: 16, rot: Math.PI / 2, align: "center" }));
  g.push(T(213, 1302, "Time relative to Other looking (sec)", { size: H, bold: true, align: "center" }));
  g.push(hdash(1326.7, 32, 395));
  // d
  g.push(T(447, 395, "d", { size: 35, bold: true }));
  g.push(T(913, 396, "Single-cell examples of Interactive Mutual Gaze", { size: H, bold: true, align: "center" }));
  g.push(boxEl(603.5, 421.3, 1221.8, 494));
  g.push(squiggle(617, 436, TEAL, 3, 1.55, 1.3), squiggle(925, 436, PURPLE, 3, 1.55, 1.3));
  g.push(squiggle(617, 469, GRAY, 3, 1.55, 1.3), squiggle(925, 469, YELLOW, 3, 1.55, 1.3));
  g.push(T(661, 441, "Self-follow Mutual Gaze", { size: 19.3, bold: true, color: TEAL }));
  g.push(T(970, 441, "Other-follow Mutual Gaze", { size: 19.3, bold: true, color: PURPLE }));
  g.push(T(661, 473, "Self Solo Gaze", { size: 19.3, bold: true, color: "#666" }));
  g.push(T(970, 473, "Other Solo Gaze", { size: 19.3, bold: true, color: YELLOW }));
  const colX = [580.7, 801, 1023, 1244.6];
  const colNames = ["OFC", "dmPFC", "ACCg", "BLA"];
  [517.7, 925, 1349].forEach((y) => colNames.forEach((n, k) => g.push(T(colX[k], y, n, { size: H, bold: true, align: "center" }))));
  g.push(T(913, 875, "Time relative to looking at Eyes (sec)", { size: H, bold: true, align: "center" }));
  g.push(T(913, 1302, "Time relative to looking at Eyes (sec)", { size: H, bold: true, align: "center" }));
  g.push(T(913, 1785, "Time relative to looking at the Eyes (sec)", { size: H, bold: true, align: "center" }));
  g.push(hdash(899.5, 447, 1329), hdash(1326.7, 447, 1329));
  [756.7, 1190, 1566.7].forEach((y) => g.push(T(454, y, "Spiking activity (sp/s)", { size: 19, bold: true, rot: Math.PI / 2, align: "center" })));
  [591.7, 1003].forEach((y) => g.push(T(541, y, "Spiking activity (sp/s)", { size: 11.5, bold: true, rot: Math.PI / 2, align: "center" })));
  blocks.forEach((bk) => bk.cells.forEach((s: string, k: number) => {
    const large = bk.kind === "L";
    const xs = bk.cellX || (large ? cellLargeX : cellSmallX);
    g.push(T(xs[k], bk.cellY[k], s, { size: large ? 14.5 : 10.5, color: "#222" }));
  }));
  // e
  g.push(T(4, 1348, "e", { size: 35, bold: true }));
  g.push(T(211, 1349, "Proportion of cells discriminating", { size: 20.5, bold: true, align: "center" }));
  g.push(T(213, 1373, "Mutual Gaze vs. Solo Gaze", { size: 20.5, bold: true, align: "center" }));
  g.push(boxEl(68.7, 1392.7, 358.3, 1487.3));
  g.push(T(83.3, 1410, "Both", { size: 19, bold: true, color: BLUE }));
  g.push(T(83.3, 1440, "Self-follow", { size: 19, bold: true, color: TEAL }));
  g.push(T(83.3, 1469, "Other-follow", { size: 19, bold: true, color: PURPLE }));
  g.push(T(219, 1440, "Mutual > Solo", { size: 19, bold: true, color: "#1d1d1b" }));
  g.push(T(219, 1469, "Solo > Mutual", { size: 19, bold: true, color: "#6b6b6b" }));
  g.push(T(14, 1647, "Proportion of significant cells", { size: 20.6, bold: true, rot: Math.PI / 2, align: "center" }));
  g.push(T(40, 1647, "(out of all cells)", { size: 19.7, rot: Math.PI / 2, align: "center" }));
  const r50 = (50 * Math.PI) / 180;
  g.push(T(139, 1503, "Self", { size: 10, rot: r50, align: "center" }));
  g.push(T(145, 1509, "follow", { size: 10, rot: r50, align: "center" }));
  g.push(T(165, 1501, "Other", { size: 10, rot: r50, align: "center" }));
  g.push(T(170, 1509, "follow", { size: 10, rot: r50, align: "center" }));

  return { animation: false, backgroundColor: "#fff", grid, xAxis, yAxis, series, graphic: { elements: g } };
}

export default function App() {
  const ref = useRef<HTMLDivElement>(null);
  useEffect(() => {
    if (!ref.current) return;
    const chart = echarts.init(ref.current, undefined, { renderer: "svg" });
    chart.setOption(buildOption() as any);
    return () => chart.dispose();
  }, []);
  return <div ref={ref} style={{ position: "absolute", left: 0, top: 0, width: 1329, height: 1800 }} />;
}
